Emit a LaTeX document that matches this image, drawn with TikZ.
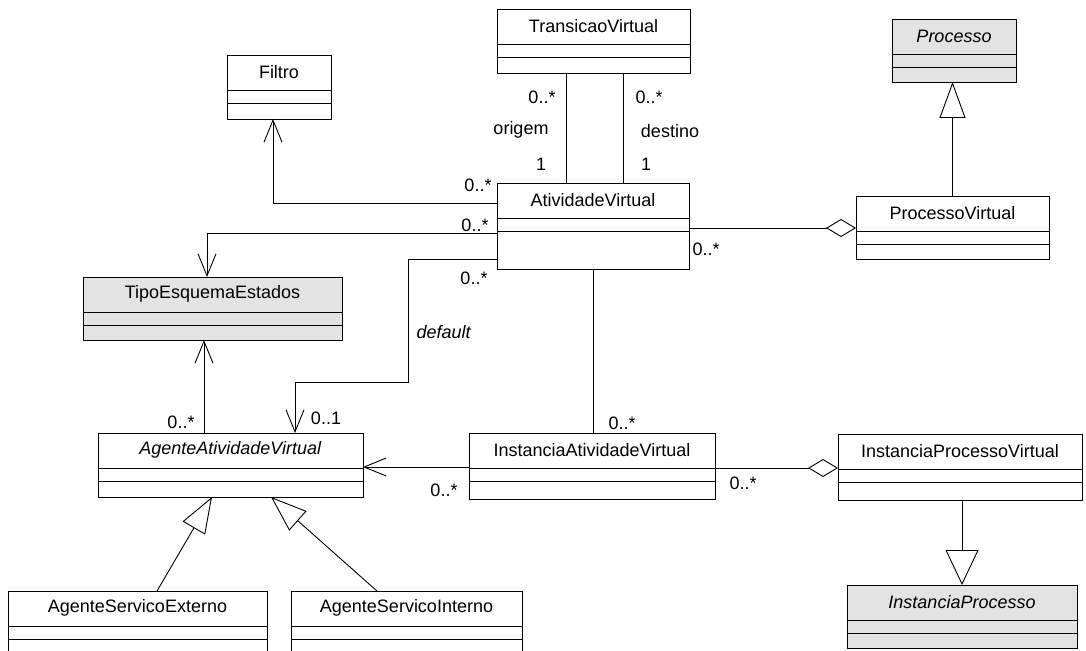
\documentclass[tikz,border=0pt]{standalone}
\usepackage{fontspec}
\setmainfont{Liberation Sans}
\usetikzlibrary{calc,arrows.meta}

\tikzset{
  classbox/.style={draw, line width=0.9pt, inner sep=0pt, outer sep=0pt, anchor=north west},
  abstractbox/.style={fill=black!11},
  classname/.style={inner sep=0pt, font=\fontsize{18}{20}\selectfont},
  mult/.style={inner sep=0pt, font=\fontsize{18}{20}\selectfont},
  assoc/.style={line width=0.9pt},
  navig/.style={assoc, -{Straight Barb[length=22pt,width=18pt]}},
  generalize/.style={assoc, -{Triangle[open,length=36pt,width=26pt]}},
  aggregate/.style={assoc, {Diamond[open,length=30pt,width=18pt]}-},
}

% [style]{name}{top left}{width}{height}{title}
\newcommand{\umlclass}[6][]{%
  \node[classbox,#1,minimum width=#4pt,minimum height=#5pt] (#2) at (#3) {};
  \node[classname] (#2-title) at ($(#2.north)+(0,-17)$) {#6};
  \draw[line width=0.9pt] ($(#2.north west)+(0,-35)$) -- ($(#2.north east)+(0,-35)$);
  \draw[line width=0.9pt] ($(#2.north west)+(0,-48)$) -- ($(#2.north east)+(0,-48)$);
}

\begin{document}
\begin{tikzpicture}[x=1pt,y=1pt]
  %%%%% START %%%%%
  \useasboundingbox (0,0) rectangle (1086,-650);

  \umlclass{tv}{497,-9}{193}{64}{TransicaoVirtual}
  \umlclass{av}{497,-183}{192}{86}{AtividadeVirtual}
  \umlclass[abstractbox]{pr}{892,-19}{124}{63}{\textit{Processo}}
  \umlclass{pv}{856,-196}{193}{63}{ProcessoVirtual}
  \umlclass{fi}{227,-55}{104}{64}{Filtro}
  \umlclass[abstractbox]{te}{83,-277}{259}{63}{TipoEsquemaEstados}
  \umlclass{aa}{98,-433}{265}{64}{\textit{AgenteAtividadeVirtual}}
  \umlclass{ia}{469,-433}{246}{66}{InstanciaAtividadeVirtual}
  \umlclass{ip}{838,-434}{244}{66}{InstanciaProcessoVirtual}
  \umlclass[abstractbox]{ipr}{847,-585}{230}{63}{\textit{InstanciaProcesso}}
  \umlclass{ase}{8,-591}{259}{64}{AgenteServicoExterno}
  \umlclass{asi}{291,-591}{231}{64}{AgenteServicoInterno}

  % origem / destino
  \draw[assoc] ([xshift=-27.5pt]tv.south) -- ([xshift=-27.5pt]tv.south |- av.north);
  \draw[assoc] ([xshift=29.5pt]tv.south) -- ([xshift=29.5pt]tv.south |- av.north);
  \node[mult] (m-or1) at (542,-97) {0..*};
  \node[mult] (m-or2) at (521,-130) {origem};
  \node[mult] (m-or3) at (541,-164) {1};
  \node[mult] (m-de1) at (649,-97) {0..*};
  \node[mult] (m-de2) at (670,-131) {destino};
  \node[mult] (m-de3) at (646,-164) {1};

  % atividade -> filtro, tipo, agente
  \draw[navig] ([yshift=-20pt]av.north west) -| ([xshift=-6pt]fi.south);
  \node[mult] (m-fi) at (478,-185) {0..*};
  \draw[navig] ([yshift=-50pt]av.north west) -| ([xshift=-5.5pt]te.north);
  \node[mult] (m-te) at (475,-225) {0..*};
  \coordinate (dflt) at (408,-382);
  \draw[navig] ([yshift=-76pt]av.north west) -| (dflt) -| ([xshift=64.5pt]aa.north);
  \node[mult] (m-av) at (474,-278) {0..*};
  \node[mult] (m-dflt) at (444,-332) {\textit{default}};
  \node[mult] (m-aa1) at (326,-418) {0..1};

  \draw[navig] ([xshift=-26.5pt]aa.north) -- ([xshift=-26.5pt]aa.north |- te.south);
  \node[mult] (m-aa2) at (181,-422) {0..*};

  % instancias
  \draw[assoc] (av.south) -- (av.south |- ia.north);
  \node[mult] (m-ia1) at (622,-423) {0..*};
  \draw[navig] ([yshift=-34pt]ia.north west) -- ([yshift=-34pt]ia.north west -| aa.east);
  \node[mult] (m-ia2) at (444,-490) {0..*};
  \draw[aggregate] ([yshift=-34pt]ip.north west) -- ([yshift=-34pt]ip.north west -| ia.east);
  \node[mult] (m-ia3) at (743,-483) {0..*};

  % processo
  \draw[aggregate] ([yshift=-32pt]pv.north west) -- ([yshift=-32pt]pv.north west -| av.east);
  \node[mult] (m-pv) at (706,-249) {0..*};
  \draw[generalize] (pv.north) -- (pv.north |- pr.south);
  \draw[generalize, -{Triangle[open,length=35pt,width=33pt]}] ([xshift=2pt]ip.south) -- ([xshift=2pt]ip.south |- ipr.north);

  % agentes
  \draw[generalize] ([xshift=19.5pt]ase.north) -- ([xshift=-18.5pt]aa.south);
  \draw[generalize] ([xshift=-29.5pt]asi.north) -- ([xshift=40.5pt]aa.south);
  %%%%% END %%%%%
\end{tikzpicture}
\end{document}
